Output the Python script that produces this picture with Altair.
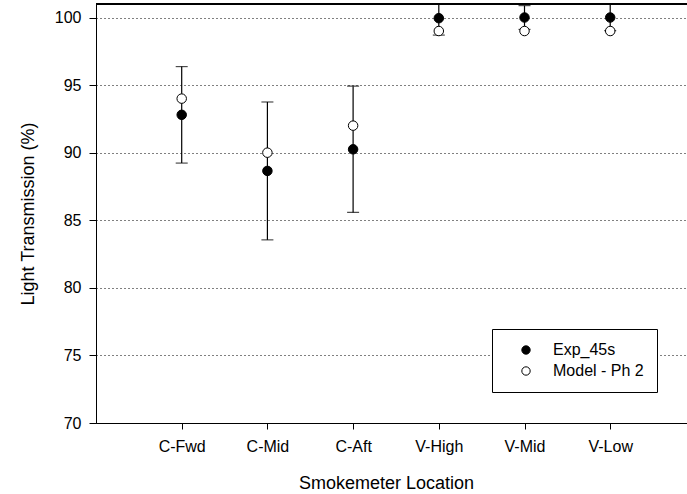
import altair as alt
import pandas as pd

categories = ["C-Fwd", "C-Mid", "C-Aft", "V-High", "V-Mid", "V-Low"]
positions = [1, 2, 3, 4, 5, 6]
exp_45s = [92.8, 88.65, 90.25, 99.95, 100.0, 100.0]
exp_err = [3.57, 5.1, 4.67, 1.25, 0.88, 0.97]
model_ph2 = [94.0, 90.0, 92.0, 99.0, 99.0, 99.0]
series_names = ["Exp_45s", "Model - Ph 2"]
y_ticks = [70, 75, 80, 85, 90, 95, 100]

FONT = "Liberation Sans"

err_df = pd.DataFrame({
    "pos": positions,
    "cat": categories,
    "lo": [m - e for m, e in zip(exp_45s, exp_err)],
    "hi": [m + e for m, e in zip(exp_45s, exp_err)],
})
pts_df = pd.DataFrame({
    "pos": positions + positions,
    "value": exp_45s + model_ph2,
    "series": [series_names[0]] * 6 + [series_names[1]] * 6,
})

label_expr = "[" + ",".join(f"'{c}'" for c in categories) + "][datum.value - 1]"

x_scale = alt.Scale(domain=[0, 6.896], nice=False, zero=False)
y_scale = alt.Scale(domain=[70, 101], nice=False, zero=False)

x_axis = alt.Axis(
    values=positions, labelExpr=label_expr, title="Smokemeter Location",
    grid=False, tickSize=6, labelPadding=9, labelFontSize=16, labelFont=FONT,
    titleFontSize=18, titleFont=FONT, titleFontWeight="normal",
    titleBaseline="alphabetic", titleX=290, titleY=65, titleAlign="center",
    domainColor="black", tickColor="black", labelColor="black", titleColor="black",
)
y_axis = alt.Axis(
    values=y_ticks, title="Light Transmission (%)",
    grid=True, gridColor="black", gridDash=[1, 3], gridWidth=1, gridOpacity=1,
    tickSize=7, labelPadding=8, labelFontSize=16, labelFont=FONT,
    titleFontSize=18, titleFont=FONT, titleFontWeight="normal",
    titleBaseline="alphabetic", titleX=-63, titleY=209.5, titleAlign="center",
    domainColor="black", tickColor="black", labelColor="black", titleColor="black",
)

base_err = alt.Chart(err_df)
bars = base_err.mark_rule(color="black", strokeWidth=1.2, clip=True).encode(
    x=alt.X("pos:Q", scale=x_scale, axis=x_axis),
    y=alt.Y("lo:Q", scale=y_scale, axis=y_axis),
    y2="hi:Q",
)
caps_lo = base_err.mark_tick(color="black", orient="horizontal", size=12, thickness=1.2, clip=True).encode(
    x=alt.X("pos:Q", scale=x_scale), y=alt.Y("lo:Q", scale=y_scale)
)
caps_hi = base_err.mark_tick(color="black", orient="horizontal", size=12, thickness=1.2, clip=True).encode(
    x=alt.X("pos:Q", scale=x_scale), y=alt.Y("hi:Q", scale=y_scale)
)

points = alt.Chart(pts_df).mark_point(
    shape="circle", filled=True, stroke="black", strokeWidth=1, size=90, opacity=1, clip=True
).encode(
    x=alt.X("pos:Q", scale=x_scale),
    y=alt.Y("value:Q", scale=y_scale),
    fill=alt.Fill(
        "series:N",
        scale=alt.Scale(domain=series_names, range=["black", "white"]),
        legend=alt.Legend(
            title=None, orient="none", legendX=396, legendY=325,
            fillColor="white", strokeColor="black", padding=13,
            symbolOffset=13, labelOffset=19, rowPadding=5,
            labelFontSize=16, labelFont=FONT, labelColor="black",
            symbolType="circle", symbolSize=70,
            symbolStrokeColor="black", symbolStrokeWidth=1,
        ),
    ),
    order=alt.Order("series:N"),
)

top_border = alt.Chart(pts_df).mark_rule(color="black", strokeWidth=1.5).encode(
    y=alt.Y(datum=101, scale=y_scale)
)

chart = alt.layer(bars, caps_lo, caps_hi, points, top_border).properties(
    width=591, height=419,
    autosize=alt.AutoSizeParams(type="none"),
    padding={"left": 96, "top": 4, "right": 0, "bottom": 71},
).configure_view(stroke=None).configure(background="white")

chart.save("out.html", embed_options={"renderer": "svg", "actions": False})
